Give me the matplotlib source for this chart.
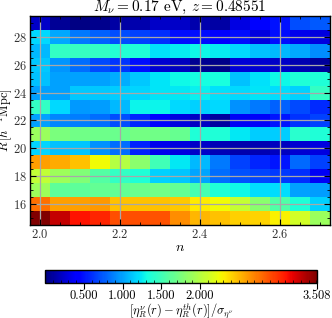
import numpy as np
import matplotlib
matplotlib.use("Agg")
import matplotlib.pyplot as plt
from matplotlib.ticker import MultipleLocator

plt.rcParams['font.family'] = 'serif'
plt.rcParams['font.serif'] = ['cmr10', 'DejaVu Serif']
plt.rcParams['mathtext.fontset'] = 'cm'
plt.rcParams['axes.formatter.use_mathtext'] = True
plt.rcParams['axes.unicode_minus'] = False

n_vals = [2.00, 2.05, 2.10, 2.15, 2.20, 2.25, 2.30, 2.35, 2.40, 2.45, 2.50, 2.55, 2.60, 2.65, 2.70]
R_vals = [15, 16, 17, 18, 19, 20, 21, 22, 23, 24, 25, 26, 27, 28, 29]

row_R15 = [3.508, 3.30, 3.12, 3.05, 2.90, 2.90, 2.88, 2.66, 2.52, 2.47, 2.42, 2.40, 2.30, 2.12, 1.88]
row_R16 = [2.78, 2.60, 2.60, 2.63, 2.48, 2.47, 2.47, 2.45, 2.32, 2.26, 2.06, 1.82, 1.57, 1.36, 1.16]
row_R17 = [1.90, 1.62, 1.62, 1.65, 1.65, 1.68, 1.70, 1.65, 1.53, 1.36, 1.30, 1.20, 1.20, 1.00, 0.98]
row_R18 = [2.05, 1.90, 1.78, 1.58, 1.44, 1.37, 1.16, 1.12, 1.01, 0.81, 0.72, 0.68, 0.64, 0.59, 0.36]
row_R19 = [2.60, 2.55, 2.48, 2.25, 2.00, 1.82, 1.50, 1.24, 1.07, 0.85, 0.66, 0.57, 0.51, 0.80, 0.66]
row_R20 = [1.17, 1.10, 1.12, 0.94, 0.82, 0.55, 0.34, 0.29, 0.23, 0.17, 0.14, 0.16, 0.20, 0.25, 0.30]
row_R21 = [1.88, 1.75, 1.70, 1.69, 1.68, 1.72, 1.70, 1.67, 1.36, 1.37, 1.24, 1.15, 1.14, 1.40, 1.36]
row_R22 = [1.00, 0.90, 0.87, 0.82, 0.70, 0.57, 0.42, 0.30, 0.21, 0.10, 0.36, 0.38, 0.52, 0.61, 0.66]
row_R23 = [1.44, 1.18, 0.97, 0.98, 1.07, 1.28, 1.28, 1.18, 1.16, 1.18, 0.94, 0.86, 0.77, 0.69, 0.58]
row_R24 = [1.00, 1.00, 1.13, 1.13, 1.15, 1.17, 1.22, 1.24, 1.27, 1.21, 1.18, 1.23, 1.20, 1.16, 1.44]
row_R25 = [1.10, 1.00, 1.00, 1.00, 1.04, 1.13, 1.22, 1.30, 1.32, 1.34, 1.10, 1.21, 1.30, 1.36, 1.36]
row_R26 = [1.13, 0.95, 0.82, 0.69, 0.63, 0.49, 0.25, 0.20, 0.06, 0.03, 0.27, 0.25, 0.23, 0.16, 0.09]
row_R27 = [1.07, 1.44, 1.46, 1.44, 1.38, 1.36, 1.21, 1.25, 1.30, 1.25, 1.18, 1.10, 1.07, 1.02, 0.93]
row_R28 = [1.18, 1.02, 0.85, 0.77, 0.71, 0.66, 0.60, 0.49, 0.49, 0.42, 0.49, 0.29, 0.49, 0.33, 0.29]
row_R29 = [0.23, 0.08, 0.02, 0.05, 0.12, 0.15, 0.23, 0.23, 0.15, 0.12, 0.31, 0.45, 0.50, 0.70, 0.74]

cbar_ticks = [0.5, 1.0, 1.5, 2.0, 3.508]
cbar_ticklabels = ["0.500", "1.000", "1.500", "2.000", "3.508"]
vmin, vmax = 0.0, 3.508

Z = np.array([row_R15, row_R16, row_R17, row_R18, row_R19, row_R20, row_R21, row_R22,
              row_R23, row_R24, row_R25, row_R26, row_R27, row_R28, row_R29])

n_arr = np.array(n_vals)
R_arr = np.array(R_vals, dtype=float)
dn = n_arr[1] - n_arr[0]
dR = R_arr[1] - R_arr[0]
n_edges = np.concatenate([n_arr - dn / 2, [n_arr[-1] + dn / 2]])
R_edges = np.concatenate([R_arr - dR / 2, [R_arr[-1] + dR / 2]])

W, H = 332, 318
fig = plt.figure(figsize=(W / 100, H / 100), dpi=100)
ax_w, ax_h = 300, 209
ax = fig.add_axes([30 / W, 1 - 225 / H, ax_w / W, ax_h / H])

mesh = ax.pcolormesh(n_edges, R_edges, Z, cmap='jet', vmin=vmin, vmax=vmax, shading='flat')
ax.set_xlim(n_edges[0], n_edges[-1])
ax.set_ylim(R_edges[0], R_edges[-1])

ax.xaxis.set_major_locator(MultipleLocator(0.2))
ax.xaxis.set_minor_locator(MultipleLocator(0.05))
ax.yaxis.set_major_locator(MultipleLocator(2))
ax.yaxis.set_minor_locator(MultipleLocator(0.5))
ax.tick_params(which='both', direction='in', top=True, right=True, labelsize=9, colors='black', pad=2)
ax.tick_params(which='major', length=4, width=0.8)
ax.tick_params(which='minor', length=2, width=0.6)
for lab in ax.get_xticklabels() + ax.get_yticklabels():
    lab.set_color('#333333')
ax.grid(True, which='major', color='#a8a8a8', linewidth=0.9)
for s in ax.spines.values():
    s.set_linewidth(1.0)

ax.set_title(r"$M_\nu = 0.17$ eV, $z = 0.48551$", fontsize=11, pad=2)
ax.set_xlabel(r"$n$", fontsize=10, labelpad=1)
ax.set_ylabel(r"$R\,[h^{-1}{\rm Mpc}]$", fontsize=9)
ax.yaxis.set_label_coords(-15.5 / ax_w, 0.5)

cb_h = 13.5
cax = fig.add_axes([45 / W, 1 - 283 / H, 272 / W, cb_h / H])
cb = fig.colorbar(mesh, cax=cax, orientation='horizontal')
cb.set_ticks(cbar_ticks)
cb.set_ticklabels(cbar_ticklabels)
cax.xaxis.set_minor_locator(MultipleLocator(0.1))
cax.tick_params(which='major', direction='out', length=4, width=0.8, labelsize=9, pad=1)
cax.tick_params(which='minor', direction='in', length=2, width=0.5)
cb.outline.set_linewidth(1.0)
cb.set_label(r"$[\eta^{\nu}_R(r) - \eta^{th}_R(r)]/\sigma_{\eta^{\nu}}$", fontsize=9)
cax.xaxis.set_label_coords(0.5, -(301.5 - 283) / cb_h)
cax.xaxis.label.set_va('top')

fig.savefig("out.png", dpi=100)
